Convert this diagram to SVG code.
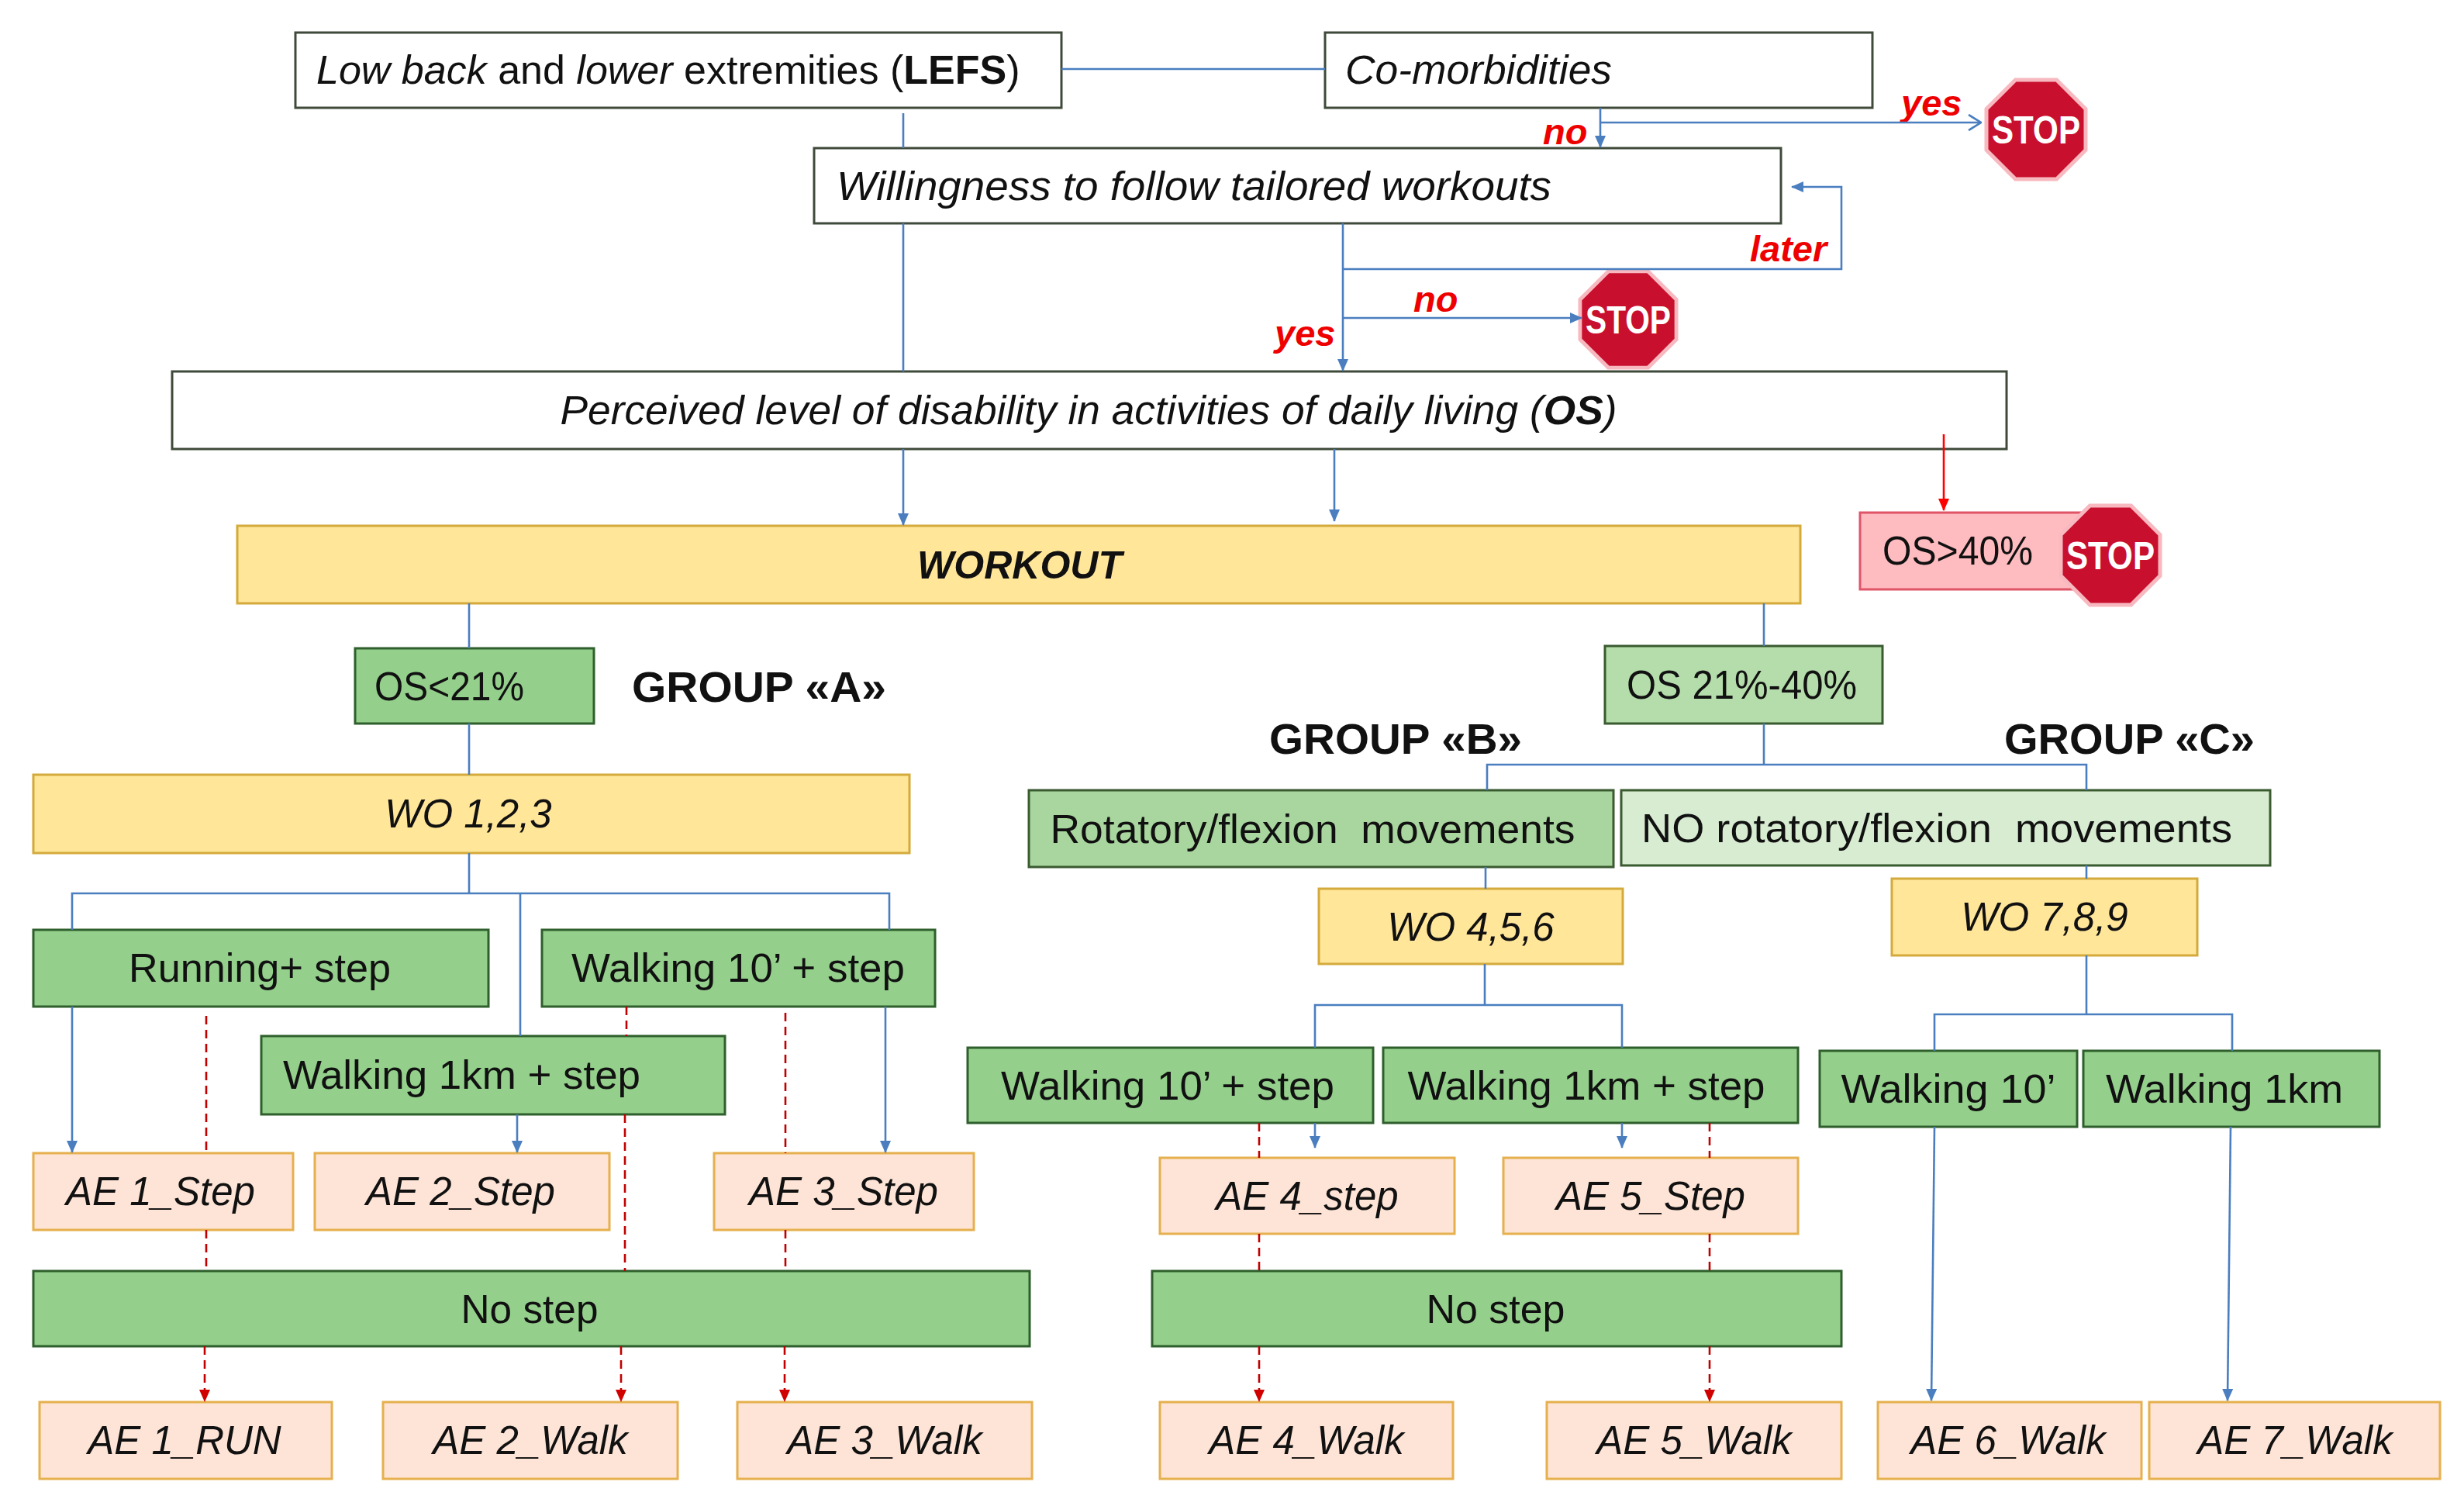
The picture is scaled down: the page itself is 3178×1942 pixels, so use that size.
<svg xmlns="http://www.w3.org/2000/svg" width="3178" height="1942" viewBox="0 0 3178 1942">
<style>
text{font-family:"Liberation Sans",Arial,sans-serif;fill:#111;}
.t{font-size:52px;}
.ti{font-size:51px;font-style:italic;}
.c{text-anchor:middle;}
.wb{fill:#fff;stroke:#3f4a3a;stroke-width:3;}
.yb{fill:#ffe699;stroke:#d4aa3c;stroke-width:3;}
.gb{fill:#94d08c;stroke:#2f5f2c;stroke-width:3;}
.lg{fill:#b5ddab;stroke:#3a5a30;stroke-width:3;}
.mg{fill:#a9d69e;stroke:#3a5a30;stroke-width:3;}
.vg{fill:#d7ecd1;stroke:#3a5a30;stroke-width:3;}
.pb{fill:#fde4d6;stroke:#e6b04e;stroke-width:3;}
.rb{fill:#ffbcc0;stroke:#e05468;stroke-width:3;}
.grp{font-size:55px;font-weight:bold;}
.lab{font-size:47px;font-weight:bold;font-style:italic;fill:#ee0000;}
.oct{fill:#c8102e;stroke:#f7b9bf;stroke-width:5;}
.stop{font-size:50px;font-weight:bold;fill:#fff;text-anchor:middle;}
.bl{fill:none;stroke:#4a7ebf;stroke-width:2.6;}
.ba{fill:none;stroke:#4a7ebf;stroke-width:2.6;marker-end:url(#ab);}
.bo{fill:none;stroke:#4a7ebf;stroke-width:2.6;marker-end:url(#ao);}
.ra{fill:none;stroke:#ff0000;stroke-width:2.6;marker-end:url(#ar);}
.rd{fill:none;stroke:#c00000;stroke-width:2.6;stroke-dasharray:11 7;}
.rda{fill:none;stroke:#c00000;stroke-width:2.6;stroke-dasharray:11 7;marker-end:url(#ard);}
</style>
<defs>
<marker id="ab" viewBox="0 0 16 14" refX="15" refY="7" markerWidth="16" markerHeight="14" orient="auto" markerUnits="userSpaceOnUse"><path d="M0,0 L16,7 L0,14 z" fill="#4a7ebf"/></marker>
<marker id="ao" viewBox="0 0 18 22" refX="17" refY="11" markerWidth="18" markerHeight="22" orient="auto" markerUnits="userSpaceOnUse"><path d="M1,1 L17,11 L1,21" fill="none" stroke="#4a7ebf" stroke-width="2.6"/></marker>
<marker id="ar" viewBox="0 0 16 14" refX="15" refY="7" markerWidth="16" markerHeight="14" orient="auto" markerUnits="userSpaceOnUse"><path d="M0,0 L16,7 L0,14 z" fill="#ff0000"/></marker>
<marker id="ard" viewBox="0 0 16 14" refX="15" refY="7" markerWidth="16" markerHeight="14" orient="auto" markerUnits="userSpaceOnUse"><path d="M0,0 L16,7 L0,14 z" fill="#d00000"/></marker>
<polygon id="oct" points="-26.5,-64 26.5,-64 64,-26.5 64,26.5 26.5,64 -26.5,64 -64,26.5 -64,-26.5"/>
</defs>
<rect width="3178" height="1942" fill="#fff"/>

<g id="n-lefs"><rect class="wb" x="381" y="42" width="988" height="97"/>
<text class="t" x="408" y="108"><tspan font-style="italic">Low back</tspan> and <tspan font-style="italic">lower</tspan> extremities (<tspan font-weight="bold">LEFS</tspan>)</text></g>
<g id="n-comorb"><rect class="wb" x="1709" y="42" width="706" height="97"/>
<text class="ti" x="1735" y="108" textLength="344" lengthAdjust="spacingAndGlyphs">Co-morbidities</text></g>
<g id="n-will"><rect class="wb" x="1050" y="191" width="1247" height="97"/>
<text class="ti" x="1079" y="258" textLength="922" lengthAdjust="spacingAndGlyphs">Willingness to follow tailored workouts</text></g>
<g id="n-perc"><rect class="wb" x="222" y="479" width="2366" height="100"/>
<text class="ti c" x="1404" y="547" textLength="1363" lengthAdjust="spacingAndGlyphs">Perceived level of disability in activities of daily living (<tspan font-weight="bold">OS</tspan>)</text></g>
<g id="n-workout"><rect class="yb" x="306" y="678" width="2016" height="100"/>
<text class="c" x="1315" y="746" font-size="50" font-weight="bold" font-style="italic">WORKOUT</text></g>
<g id="n-os40"><rect class="rb" x="2399" y="661" width="320" height="99"/>
<text class="t" x="2428" y="728" textLength="194" lengthAdjust="spacingAndGlyphs">OS&gt;40%</text></g>

<g id="stop1"><use href="#oct" class="oct" transform="translate(2626,167)"/><text class="stop" x="2626" y="185" textLength="114" lengthAdjust="spacingAndGlyphs">STOP</text></g>
<g id="stop2"><use href="#oct" class="oct" transform="translate(2100,412) scale(0.97)"/><text class="stop" x="2100" y="430" textLength="110" lengthAdjust="spacingAndGlyphs">STOP</text></g>
<g id="stop3"><use href="#oct" class="oct" transform="translate(2722,716)"/><text class="stop" x="2722" y="734" textLength="114" lengthAdjust="spacingAndGlyphs">STOP</text></g>

<g id="n-os21"><rect class="gb" x="458" y="836" width="308" height="97"/>
<text class="t" x="483" y="903" textLength="193" lengthAdjust="spacingAndGlyphs">OS&lt;21%</text></g>
<g id="n-os2140"><rect class="lg" x="2070" y="833" width="358" height="100"/>
<text class="t" x="2098" y="901" textLength="297" lengthAdjust="spacingAndGlyphs">OS 21%-40%</text></g>
<g id="g-a"><text class="grp" x="815" y="905" textLength="328" lengthAdjust="spacingAndGlyphs">GROUP «A»</text></g>
<g id="g-b"><text class="grp" x="1637" y="972" textLength="326" lengthAdjust="spacingAndGlyphs">GROUP «B»</text></g>
<g id="g-c"><text class="grp" x="2585" y="972" textLength="323" lengthAdjust="spacingAndGlyphs">GROUP «C»</text></g>

<g id="n-wo123"><rect class="yb" x="43" y="999" width="1130" height="101"/>
<text class="ti c" x="604" y="1067">WO 1,2,3</text></g>
<g id="n-rot"><rect class="mg" x="1327" y="1019" width="754" height="99"/>
<text class="t c" x="1693" y="1087" xml:space="preserve" textLength="677" lengthAdjust="spacingAndGlyphs">Rotatory/flexion  movements</text></g>
<g id="n-norot"><rect class="vg" x="2091" y="1019" width="837" height="97"/>
<text class="t c" x="2498" y="1086" xml:space="preserve" textLength="762" lengthAdjust="spacingAndGlyphs">NO rotatory/flexion  movements</text></g>
<g id="n-wo456"><rect class="yb" x="1701" y="1146" width="392" height="97"/>
<text class="ti c" x="1897" y="1213">WO 4,5,6</text></g>
<g id="n-wo789"><rect class="yb" x="2440" y="1133" width="394" height="99"/>
<text class="ti c" x="2637" y="1200">WO 7,8,9</text></g>

<g id="n-run"><rect class="gb" x="43" y="1199" width="587" height="99"/>
<text class="t c" x="335" y="1266" textLength="338" lengthAdjust="spacingAndGlyphs">Running+ step</text></g>
<g id="n-w10a"><rect class="gb" x="699" y="1199" width="507" height="99"/>
<text class="t c" x="952" y="1266" textLength="430" lengthAdjust="spacingAndGlyphs">Walking 10’ + step</text></g>
<g id="n-w1ka"><rect class="gb" x="337" y="1336" width="598" height="101"/>
<text class="t" x="365" y="1404" textLength="461" lengthAdjust="spacingAndGlyphs">Walking 1km + step</text></g>
<g id="n-w10b"><rect class="gb" x="1248" y="1351" width="523" height="97"/>
<text class="t c" x="1506" y="1418" textLength="430" lengthAdjust="spacingAndGlyphs">Walking 10’ + step</text></g>
<g id="n-w1kb"><rect class="gb" x="1784" y="1351" width="535" height="97"/>
<text class="t c" x="2046" y="1418" textLength="461" lengthAdjust="spacingAndGlyphs">Walking 1km + step</text></g>
<g id="n-w10c"><rect class="gb" x="2347" y="1355" width="332" height="98"/>
<text class="t c" x="2513" y="1422" textLength="277" lengthAdjust="spacingAndGlyphs">Walking 10’</text></g>
<g id="n-w1kc"><rect class="gb" x="2687" y="1355" width="382" height="98"/>
<text class="t c" x="2869" y="1422" textLength="306" lengthAdjust="spacingAndGlyphs">Walking 1km</text></g>

<g id="n-ae1s"><rect class="pb" x="43" y="1487" width="335" height="99"/>
<text class="ti c" x="207" y="1554">AE 1_Step</text></g>
<g id="n-ae2s"><rect class="pb" x="406" y="1487" width="380" height="99"/>
<text class="ti c" x="594" y="1554">AE 2_Step</text></g>
<g id="n-ae3s"><rect class="pb" x="921" y="1487" width="335" height="99"/>
<text class="ti c" x="1088" y="1554">AE 3_Step</text></g>
<g id="n-ae4s"><rect class="pb" x="1496" y="1493" width="380" height="98"/>
<text class="ti c" x="1686" y="1560">AE 4_step</text></g>
<g id="n-ae5s"><rect class="pb" x="1939" y="1493" width="380" height="98"/>
<text class="ti c" x="2129" y="1560">AE 5_Step</text></g>

<g id="n-nostepa"><rect class="gb" x="43" y="1639" width="1285" height="97"/>
<text class="t c" x="683" y="1706" textLength="177" lengthAdjust="spacingAndGlyphs">No step</text></g>
<g id="n-nostepb"><rect class="gb" x="1486" y="1639" width="889" height="97"/>
<text class="t c" x="1929" y="1706" textLength="179" lengthAdjust="spacingAndGlyphs">No step</text></g>

<g id="n-ae1r"><rect class="pb" x="51" y="1808" width="377" height="99"/>
<text class="ti c" x="238" y="1875">AE 1_RUN</text></g>
<g id="n-ae2w"><rect class="pb" x="494" y="1808" width="380" height="99"/>
<text class="ti c" x="684" y="1875">AE 2_Walk</text></g>
<g id="n-ae3w"><rect class="pb" x="951" y="1808" width="380" height="99"/>
<text class="ti c" x="1141" y="1875">AE 3_Walk</text></g>
<g id="n-ae4w"><rect class="pb" x="1496" y="1808" width="378" height="99"/>
<text class="ti c" x="1685" y="1875">AE 4_Walk</text></g>
<g id="n-ae5w"><rect class="pb" x="1995" y="1808" width="380" height="99"/>
<text class="ti c" x="2185" y="1875">AE 5_Walk</text></g>
<g id="n-ae6w"><rect class="pb" x="2422" y="1808" width="340" height="99"/>
<text class="ti c" x="2590" y="1875">AE 6_Walk</text></g>
<g id="n-ae7w"><rect class="pb" x="2772" y="1808" width="375" height="99"/>
<text class="ti c" x="2960" y="1875">AE 7_Walk</text></g>

<g id="labels">
<text class="lab" x="1990" y="186">no</text>
<text class="lab" x="2452" y="149">yes</text>
<text class="lab" x="2257" y="337">later</text>
<text class="lab" x="1823" y="402">no</text>
<text class="lab" x="1644" y="446">yes</text>
</g>

<g id="connectors">
<path class="bl" d="M1369,89 H1709"/>
<path class="bl" d="M1165,146 V191 M1165,288 V479"/>
<path class="ba" d="M1165,579 V677"/>
<path class="ba" d="M2064,139 V190"/>
<path class="bo" d="M2064,158 H2555"/>
<path class="ba" d="M1732,288 V478"/>
<path class="ba" d="M1732,347 H2375 V241 H2311"/>
<path class="ba" d="M1732,410 H2040"/>
<path class="ba" d="M1721,579 V672"/>
<path class="ra" d="M2507,560 V658"/>
<path class="bl" d="M605,778 V836 M605,933 V999 M605,1100 V1152"/>
<path class="bl" d="M2275,778 V833 M2275,933 V986"/>
<path class="bl" d="M1918,1019 V986 H2691 V1019"/>
<path class="bl" d="M1916,1118 V1146 M2691,1116 V1133"/>
<path class="bl" d="M93,1199 V1152 H1147 V1199 M671,1152 V1336"/>
<path class="ba" d="M93,1298 V1486"/>
<path class="ba" d="M667,1437 V1486"/>
<path class="ba" d="M1142,1298 V1486"/>
<path class="bl" d="M1915,1243 V1296 M1696,1351 V1296 H2092 V1351"/>
<path class="ba" d="M1696,1448 V1480"/>
<path class="ba" d="M2092,1448 V1480"/>
<path class="bl" d="M2691,1232 V1308 M2495,1355 V1308 H2879 V1355"/>
<path class="ba" d="M2495,1453 L2491,1806"/>
<path class="ba" d="M2877,1453 L2873,1806"/>
<path class="rd" d="M266,1310 V1487 M266,1586 V1639"/>
<path class="rda" d="M264,1736 V1807"/>
<path class="rd" d="M808,1298 V1336 M806,1437 V1639"/>
<path class="rda" d="M801,1736 V1807"/>
<path class="rd" d="M1013,1306 V1487 M1013,1586 V1639"/>
<path class="rda" d="M1012,1736 V1807"/>
<path class="rd" d="M1624,1448 V1493 M1624,1591 V1639"/>
<path class="rda" d="M1624,1736 V1807"/>
<path class="rd" d="M2205,1448 V1493 M2205,1591 V1639"/>
<path class="rda" d="M2205,1736 V1807"/>
</g>
</svg>
